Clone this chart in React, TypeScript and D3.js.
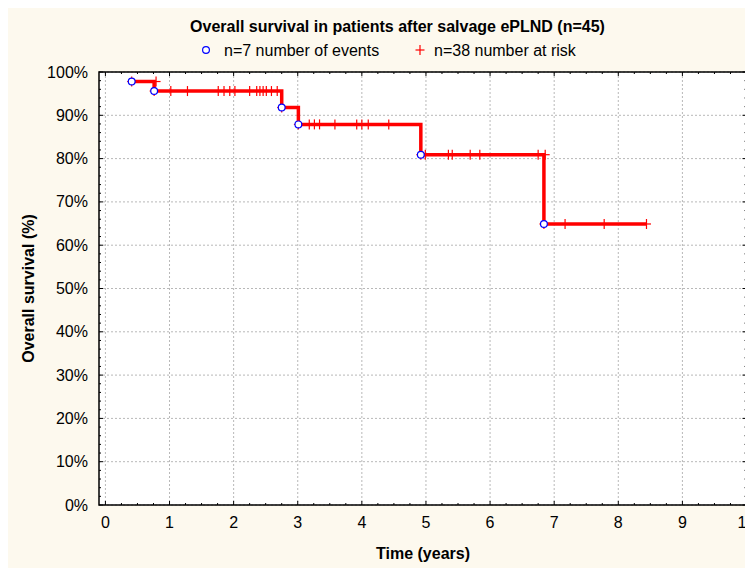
import React from "react";
import * as d3 from "d3";

// Kaplan-Meier: event times (years) and survival (%) after each event
const eventTimes = [0.41, 0.76, 2.75, 3.01, 4.92, 6.84];
const eventSurvival = [97.8, 95.6, 91.8, 87.9, 80.9, 64.9];

// censored (number at risk) marks, one list per survival level
const censorGroups = [
  [0.41, 0.79],
  [0.76, 1.02, 1.28, 1.76, 1.85, 1.94, 2.02, 2.25, 2.36, 2.41, 2.46, 2.51, 2.59, 2.68],
  [2.75],
  [3.01, 3.18, 3.26, 3.34, 3.58, 3.92, 4.0, 4.1, 4.42],
  [4.92, 4.99, 5.35, 5.41, 5.69, 5.84, 6.75, 6.86],
  [6.84, 7.17, 7.78, 8.44],
];
const followUpEnd = 8.44;

const xTicks = [0, 1, 2, 3, 4, 5, 6, 7, 8, 9, 10];
const yTicks = [0, 10, 20, 30, 40, 50, 60, 70, 80, 90, 100];

const title = "Overall survival in patients after salvage ePLND (n=45)";
const legendEvents = "n=7 number of events";
const legendRisk = "n=38 number at risk";

const font = "'Liberation Sans', Arial, Helvetica, sans-serif";

export default function App() {
  // page coordinates, the svg sits at the body margin (8,8)
  const left = 99, right = 746.5, top = 72, bottom = 505;

  const x = d3.scaleLinear().domain([-0.1, 10]).range([left, right]);
  const y = d3.scaleLinear().domain([0, 100]).range([bottom, top]);

  const pts: [number, number][] = eventTimes.map((t, i) => [t, eventSurvival[i]]);
  pts.push([followUpEnd, eventSurvival[eventSurvival.length - 1]]);
  const line = d3.line<[number, number]>()
    .x(d => x(d[0]))
    .y(d => y(d[1]))
    .curve(d3.curveStepAfter);

  const xMinor = d3.range(0, 10.01, 0.25).filter(v => !xTicks.includes(v));
  const yMinor = d3.range(0, 100.01, 2).filter(v => v % 10 !== 0);

  const censored = censorGroups.flatMap((g, i) => g.map(t => ({ t, s: eventSurvival[i] })));

  const plus = (cx: number, cy: number, key: string, hw = 4.5, hh = 5) => (
    <g key={key} stroke="#ff0000" strokeWidth={1.2}>
      <line x1={cx - hw} x2={cx + hw} y1={cy} y2={cy} />
      <line x1={cx} x2={cx} y1={cy - hh} y2={cy + hh} />
    </g>
  );

  return (
    <svg width={745} height={560} style={{ display: "block", background: "#fdf9ee" }} fontFamily={font}>
      <g transform="translate(-8,-8)">
        <rect x={left} y={top} width={right - left} height={bottom - top} fill="#ffffff" />

        {/* grid */}
        <g stroke="#b8b8b8" strokeWidth={1} strokeDasharray="2,2">
          {xTicks.map(t => (
            <line key={"gx" + t} x1={x(t)} x2={x(t)} y1={top} y2={bottom} />
          ))}
          {yTicks.map(t => (
            <line key={"gy" + t} x1={left} x2={right} y1={y(t)} y2={y(t)} />
          ))}
        </g>

        {/* ticks, inward on all sides */}
        <g stroke="#000" strokeWidth={1}>
          {xTicks.map(t => (
            <g key={"xt" + t}>
              <line x1={x(t)} x2={x(t)} y1={bottom} y2={bottom - 4} />
              <line x1={x(t)} x2={x(t)} y1={top} y2={top + 4} />
            </g>
          ))}
          {xMinor.map(t => (
            <g key={"xm" + t}>
              <line x1={x(t)} x2={x(t)} y1={bottom} y2={bottom - 2} />
              <line x1={x(t)} x2={x(t)} y1={top} y2={top + 2} />
            </g>
          ))}
          {yTicks.map(t => (
            <g key={"yt" + t}>
              <line x1={left} x2={left + 4} y1={y(t)} y2={y(t)} />
              <line x1={right} x2={right - 4} y1={y(t)} y2={y(t)} />
            </g>
          ))}
          {yMinor.map(t => (
            <g key={"ym" + t}>
              <line x1={left} x2={left + 2} y1={y(t)} y2={y(t)} />
              <line x1={right} x2={right - 2} y1={y(t)} y2={y(t)} />
            </g>
          ))}
        </g>

        <rect x={left} y={top} width={right - left} height={bottom - top} fill="none" stroke="#000" strokeWidth={1.5} />

        {/* survival curve */}
        <path d={line(pts) || ""} fill="none" stroke="#ff0000" strokeWidth={3.5} />
        {censored.map((c, i) => plus(x(c.t), y(c.s), "c" + i))}
        {eventTimes.map((t, i) => (
          <circle key={"e" + i} cx={x(t)} cy={y(eventSurvival[i])} r={3.4} fill="#fff" stroke="#0000ff" strokeWidth={1.2} />
        ))}

        {/* tick labels */}
        <g fontSize={16} fill="#000">
          {xTicks.map(t => (
            <text key={"xl" + t} x={x(t)} y={528} textAnchor="middle">{t}</text>
          ))}
          {yTicks.map(t => (
            <text key={"yl" + t} x={88} y={y(t) + 5.5} textAnchor="end">{t + "%"}</text>
          ))}
        </g>

        {/* titles */}
        <text x={397.5} y={32} textAnchor="middle" fontSize={16} fontWeight="bold">{title}</text>
        <text x={423} y={559} textAnchor="middle" fontSize={16} fontWeight="bold">Time (years)</text>
        <text transform={`translate(34,${(top + bottom) / 2}) rotate(-90)`} textAnchor="middle" fontSize={16} fontWeight="bold">
          Overall survival (%)
        </text>

        {/* legend */}
        <circle cx={206} cy={50} r={3.4} fill="#fff" stroke="#0000ff" strokeWidth={1.2} />
        <text x={224} y={56} fontSize={16}>{legendEvents}</text>
        {plus(420, 50, "lg")}
        <text x={434} y={56} fontSize={16}>{legendRisk}</text>
      </g>
    </svg>
  );
}
